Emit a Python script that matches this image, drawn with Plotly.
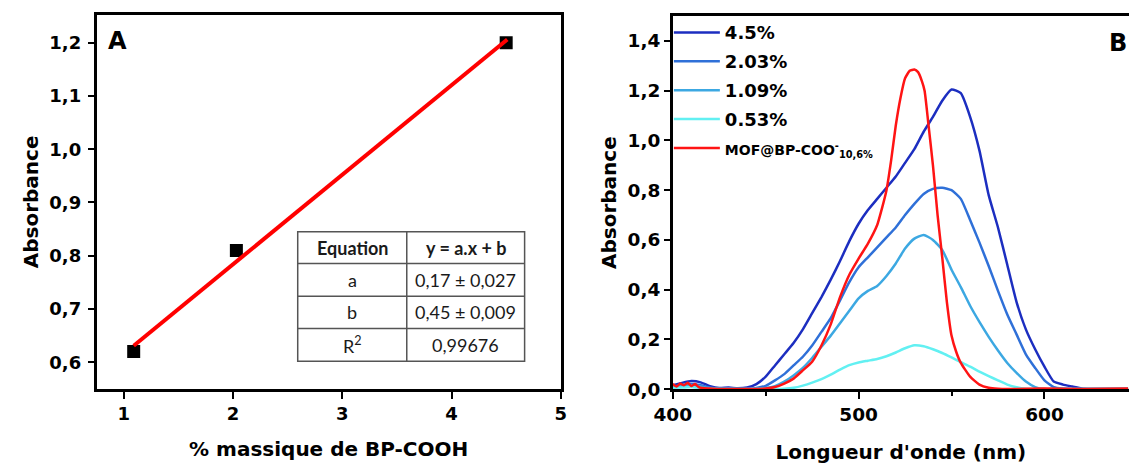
import plotly.graph_objects as go

W, H = 1135, 471

# ---------------- Panel A data ----------------
pct_bp_cooh = [1.09, 2.03, 4.5]
absorbance_a = [0.62, 0.81, 1.20]
fit_x = [1.09, 4.51]
fit_y = [0.631, 1.206]

table_rows = [["Equation", "y = a.x + b"],
              ["a", "0,17 ± 0,027"],
              ["b", "0,45 ± 0,009"],
              ["R<sup>2</sup>", "0,99676"]]

# ---------------- Panel B data ----------------
wavelength_nm = [400, 405, 410, 415, 420, 425, 430, 435, 440, 445,
                 450, 455, 460, 465, 470, 475, 480, 485, 490, 495,
                 500, 505, 510, 515, 520, 525, 530, 535, 540, 545,
                 550, 555, 560, 565, 570, 575, 580, 585, 590, 595,
                 600, 605, 610, 615, 620, 625, 630, 635, 640, 645]

abs_4_5 = [0.015, 0.025, 0.032, 0.027, 0.012, 0.004, 0.006, 0.003, 0.006, 0.02,
           0.05, 0.095, 0.14, 0.185, 0.24, 0.305, 0.37, 0.44, 0.515, 0.595,
           0.665, 0.72, 0.765, 0.81, 0.855, 0.91, 0.965, 1.035, 1.095, 1.16,
           1.205, 1.19, 1.095, 0.96, 0.78, 0.65, 0.50, 0.35, 0.24, 0.16,
           0.09, 0.03, 0.018, 0.01, 0.002, 0.0, 0.0, 0.0, 0.0, 0.0]

abs_2_03 = [0.01, 0.015, 0.02, 0.015, 0.006, 0.002, 0.003, 0.001, 0.0, 0.004,
            0.013, 0.035, 0.06, 0.095, 0.13, 0.175, 0.23, 0.285, 0.357, 0.43,
            0.49, 0.53, 0.57, 0.61, 0.65, 0.70, 0.745, 0.785, 0.805, 0.81,
            0.80, 0.765, 0.68, 0.59, 0.495, 0.395, 0.30, 0.22, 0.14, 0.085,
            0.035, 0.008, 0.002, 0.0, 0.0, 0.0, 0.0, 0.0, 0.0, 0.0]

abs_1_09 = [0.008, 0.012, 0.015, 0.01, 0.003, 0.001, 0.0, 0.0, 0.0, 0.001,
            0.004, 0.012, 0.03, 0.055, 0.085, 0.125, 0.17, 0.215, 0.265, 0.315,
            0.365, 0.395, 0.415, 0.455, 0.505, 0.565, 0.605, 0.62, 0.60, 0.56,
            0.48, 0.41, 0.335, 0.27, 0.21, 0.155, 0.105, 0.065, 0.03, 0.008,
            0.0, 0.0, 0.0, 0.0, 0.0, 0.0, 0.0, 0.0, 0.0, 0.0]

abs_0_53 = [0.005, 0.006, 0.008, 0.004, 0.001, 0.0, 0.0, 0.0, 0.0, 0.0,
            0.0, 0.0, 0.001, 0.005, 0.014, 0.026, 0.04, 0.058, 0.078, 0.096,
            0.107, 0.114, 0.121, 0.132, 0.147, 0.164, 0.176, 0.172, 0.16, 0.145,
            0.127, 0.108, 0.09, 0.07, 0.052, 0.035, 0.018, 0.007, 0.001, 0.0,
            0.0, 0.0, 0.0, 0.0, 0.0, 0.0, 0.0, 0.0, 0.0, 0.0]

mof_wavelength_nm = [400, 402, 404, 406, 408, 410, 412, 414, 416, 420, 425, 430, 440,
                     450, 455, 460, 465, 470, 475, 480, 485, 490, 495, 500, 505, 510,
                     512.5, 515, 517.5, 520, 522.5, 525, 527.5, 530, 532, 534, 535.5,
                     537.5, 540, 542.5, 545, 547.5, 550, 552.5, 555, 560, 565, 570,
                     575, 580, 600, 620, 645]
abs_mof = [0.02, 0.01, 0.022, 0.015, 0.025, 0.012, 0.02, 0.008, 0.004, 0.002, 0.0, 0.0, 0.0,
           0.002, 0.008, 0.022, 0.042, 0.075, 0.11, 0.175, 0.26, 0.37, 0.46, 0.525, 0.585, 0.66,
           0.725, 0.80, 0.92, 1.06, 1.17, 1.25, 1.28, 1.285, 1.275, 1.24, 1.20,
           1.07, 0.90, 0.70, 0.53, 0.35, 0.215, 0.15, 0.105, 0.05, 0.018, 0.005,
           0.001, 0.0, 0.002, 0.0, 0.002]

series_names = ["4.5%", "2.03%", "1.09%", "0.53%",
                "<span style='font-size:14px'>MOF@BP-COO<sup>-</sup><sub>10,6%</sub></span>"]
series_colors = ["#1c2ec0", "#2f70d8", "#3ca8e2", "#62f0f2", "#ff1414"]

# ---------------- helpers ----------------
def px(x):
    return x / W

def py(y):
    return 1 - y / H

FONT = "DejaVu Sans"

fig = go.Figure()

# Panel A
fig.add_trace(go.Scatter(x=pct_bp_cooh, y=absorbance_a, mode="markers",
                         marker=dict(symbol="square", size=13, color="black"),
                         xaxis="x", yaxis="y", showlegend=False))
fig.add_trace(go.Scatter(x=fit_x, y=fit_y, mode="lines",
                         line=dict(color="#ff0000", width=4),
                         xaxis="x", yaxis="y", showlegend=False))

# Panel B
b_x = [wavelength_nm, wavelength_nm, wavelength_nm, wavelength_nm, mof_wavelength_nm]
b_y = [abs_4_5, abs_2_03, abs_1_09, abs_0_53, abs_mof]
for i in range(5):
    fig.add_trace(go.Scatter(x=b_x[i], y=b_y[i], mode="lines", name=series_names[i],
                             line=dict(color=series_colors[i], width=2.5,
                                       shape="spline", smoothing=0.5),
                             legendgroup="g%d" % i,
                             xaxis="x2", yaxis="y2"))

axis_common = dict(showgrid=False, zeroline=False, showline=True, linecolor="black",
                   linewidth=2.5, ticks="outside", tickcolor="black", tickwidth=2)

shapes = []
annotations = []

# table
tl, tr, tdiv = 285, 517, 396.5
trows = [236.7, 269.3, 302.7, 335.5, 369]
tcol = "#555555"
shapes.append(dict(type="rect", xref="paper", yref="paper", x0=px(tl), x1=px(tr),
                   y0=py(trows[-1]), y1=py(trows[0]), line=dict(color=tcol, width=1.5),
                   fillcolor="white", layer="above"))
shapes.append(dict(type="line", xref="paper", yref="paper", x0=px(tdiv), x1=px(tdiv),
                   y0=py(trows[-1]), y1=py(trows[0]), line=dict(color=tcol, width=1.5)))
for r in trows[1:-1]:
    shapes.append(dict(type="line", xref="paper", yref="paper", x0=px(tl), x1=px(tr),
                       y0=py(r), y1=py(r), line=dict(color=tcol, width=1.5)))
cx = [(tl + tdiv) / 2, (tdiv + tr) / 2]
for ri, row in enumerate(table_rows):
    cy = (trows[ri] + trows[ri + 1]) / 2
    for ci, txt in enumerate(row):
        annotations.append(dict(x=px(cx[ci]), y=py(cy), xref="paper", yref="paper",
                                text=txt, showarrow=False, xanchor="center", yanchor="middle",
                                font=dict(family="Lato", size=18, color="#1a1a1a",
                                          weight="bold" if ri == 0 else "normal")))

annotations.append(dict(x=px(101), y=py(42), xref="paper", yref="paper", text="A",
                        showarrow=False, xanchor="center", yanchor="middle",
                        font=dict(family=FONT, size=24, color="black", weight="bold")))
annotations.append(dict(x=px(1124), y=py(44), xref="paper", yref="paper", text="B",
                        showarrow=False, xanchor="center", yanchor="middle",
                        font=dict(family=FONT, size=24, color="black", weight="bold")))

tickfont_a = dict(family=FONT, size=18, color="black", weight="bold")
tickfont_b = dict(family=FONT, size=18.5, color="black", weight="bold")
titlefont = dict(family=FONT, size=20, color="black", weight="bold")

fig.update_layout(
    width=W, height=H, autosize=False,
    margin=dict(l=0, r=0, t=0, b=0),
    paper_bgcolor="white", plot_bgcolor="white",
    separators=",.",
    xaxis=dict(domain=[px(79.3), px(554)], range=[0.75, 5], tickvals=[1, 2, 3, 4, 5],
               mirror=True, anchor="y", tickfont=tickfont_a, ticklen=7,
               title=dict(text="% massique de BP-COOH", font=titlefont, standoff=19),
               **axis_common),
    yaxis=dict(domain=[py(397.3), py(15.3)], range=[0.55, 1.252], tick0=0.6, dtick=0.1,
               tickformat=".1f", mirror=True, anchor="x", tickfont=tickfont_a, ticklen=6,
               ticklabelstandoff=3,
               title=dict(text="Absorbance", font=titlefont, standoff=6),
               **axis_common),
    xaxis2=dict(domain=[px(668.5), 1.0], range=[400, 645.5], tickvals=[400, 500, 600],
                mirror=True, anchor="y2", tickfont=tickfont_b, ticklen=7,
                minor=dict(tickvals=[450, 550, 650], ticks="outside", ticklen=4,
                           tickwidth=2, tickcolor="black"),
                title=dict(text="Longueur d'onde (nm)", font=titlefont, standoff=21),
                **axis_common),
    yaxis2=dict(domain=[py(397.5), py(16.5)], range=[0, 1.5], tick0=0, dtick=0.2,
                tickformat=".1f", mirror=False, anchor="x2", tickfont=tickfont_b, ticklen=6,
                title=dict(text="Absorbance", font=titlefont, standoff=6),
                **axis_common),
    legend=dict(x=px(664.5), y=py(14.5), xanchor="left", yanchor="top",
                font=dict(family=FONT, size=18, color="black", weight="bold"),
                bgcolor="rgba(0,0,0,0)", traceorder="grouped", tracegroupgap=2.5,
                itemwidth=46),
    shapes=shapes,
    annotations=annotations,
)

fig.write_html("out.html", config={"displayModeBar": False},
               post_script="document.body.style.margin='0';document.body.style.overflow='hidden';")
